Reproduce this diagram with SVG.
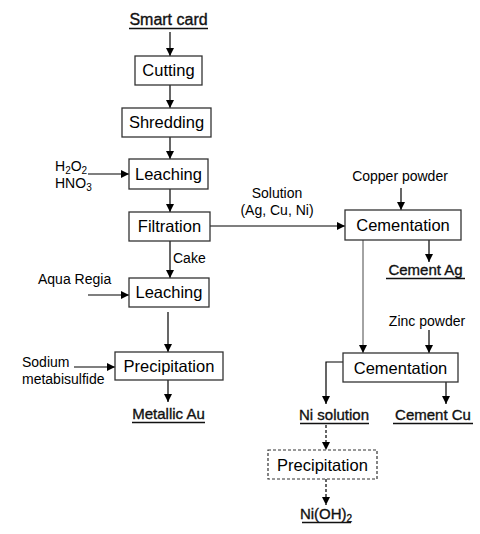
<svg xmlns="http://www.w3.org/2000/svg" width="480" height="534" viewBox="0 0 480 534">
<style>
.box{fill:#fff;stroke:#333;stroke-width:1.3}
.dbox{fill:#fff;stroke:#333;stroke-width:1.2;stroke-dasharray:3,2}
.bt{font-family:"Liberation Sans",Arial,sans-serif;font-size:16.5px;fill:#000;text-anchor:middle}
.lb{font-family:"Liberation Sans",Arial,sans-serif;font-size:14px;fill:#000}
.ul{font-family:"Liberation Sans",Arial,sans-serif;font-size:15px;fill:#111;stroke:#111;stroke-width:0.35;text-anchor:middle}
.ln{stroke:#000;stroke-width:1.2;fill:none}
.thin{stroke:#333;stroke-width:0.9;fill:none}
.dash{stroke:#000;stroke-width:1.2;fill:none;stroke-dasharray:3,2}
.und{stroke:#111;stroke-width:1.3}
</style>
<defs>
<marker id="ah" markerUnits="userSpaceOnUse" markerWidth="8" markerHeight="8" viewBox="0 0 8 8" refX="8" refY="4" orient="auto">
<path d="M0,0 L8,4 L0,8 z" fill="#000"/>
</marker>
</defs>

<g id="connectors">
<line class="ln" x1="170" y1="32" x2="170" y2="56" marker-end="url(#ah)"/>
<line class="ln" x1="170" y1="85" x2="170" y2="108" marker-end="url(#ah)"/>
<line class="ln" x1="170" y1="137" x2="170" y2="159" marker-end="url(#ah)"/>
<line class="ln" x1="88" y1="174" x2="129" y2="174" marker-end="url(#ah)"/>
<line class="ln" x1="170" y1="189" x2="170" y2="212" marker-end="url(#ah)"/>
<line class="ln" x1="210" y1="226" x2="345" y2="226" marker-end="url(#ah)"/>
<line class="ln" x1="170" y1="241" x2="170" y2="278" marker-end="url(#ah)"/>
<line class="ln" x1="88" y1="295" x2="129" y2="295" marker-end="url(#ah)"/>
<line class="ln" x1="168" y1="312" x2="168" y2="352" marker-end="url(#ah)"/>
<line class="ln" x1="74" y1="367" x2="115" y2="367" marker-end="url(#ah)"/>
<line class="ln" x1="168" y1="380" x2="168" y2="402" marker-end="url(#ah)"/>
<line class="ln" x1="401" y1="188" x2="401" y2="210" marker-end="url(#ah)"/>
<line class="ln" x1="429" y1="240" x2="429" y2="262" marker-end="url(#ah)"/>
<line class="thin" x1="363" y1="240" x2="363" y2="353" marker-end="url(#ah)"/>
<line class="ln" x1="429" y1="330" x2="429" y2="353" marker-end="url(#ah)"/>
<polyline class="ln" points="343,362 326,362 326,404" marker-end="url(#ah)"/>
<line class="ln" x1="446" y1="382" x2="446" y2="404" marker-end="url(#ah)"/>
<line class="dash" x1="326" y1="425" x2="326" y2="450" marker-end="url(#ah)"/>
<line class="dash" x1="326" y1="479" x2="326" y2="505" marker-end="url(#ah)"/>
</g>

<g id="smart-card">
<text class="ul" x="168.5" y="25" style="font-size:16px">Smart card</text>
<line class="und" x1="129" y1="28.5" x2="208" y2="28.5"/>
</g>
<g id="cutting">
<rect class="box" x="135" y="56" width="67" height="29"/>
<text class="bt" x="168.5" y="76">Cutting</text>
</g>
<g id="shredding">
<rect class="box" x="122" y="108" width="89" height="29"/>
<text class="bt" x="166.5" y="128">Shredding</text>
</g>
<g id="h2o2-hno3">
<text class="lb" x="55" y="171">H<tspan font-size="10" dy="3">2</tspan><tspan dy="-3">O</tspan><tspan font-size="10" dy="3">2</tspan></text>
<text class="lb" x="55" y="188">HNO<tspan font-size="10" dy="3">3</tspan></text>
</g>
<g id="leaching1">
<rect class="box" x="129" y="159" width="79" height="30"/>
<text class="bt" x="168.5" y="180">Leaching</text>
</g>
<g id="filtration">
<rect class="box" x="129" y="212" width="81" height="29"/>
<text class="bt" x="169.5" y="232">Filtration</text>
</g>
<g id="solution-label">
<text class="lb" x="277" y="198" text-anchor="middle">Solution</text>
<text class="lb" x="277" y="215" text-anchor="middle">(Ag, Cu, Ni)</text>
</g>
<g id="cake-label">
<text class="lb" x="173" y="263">Cake</text>
</g>
<g id="aqua-regia">
<text class="lb" x="38" y="284">Aqua Regia</text>
</g>
<g id="leaching2">
<rect class="box" x="129" y="278" width="80" height="29"/>
<text class="bt" x="169" y="298">Leaching</text>
</g>
<g id="sodium">
<text class="lb" x="22" y="367">Sodium</text>
<text class="lb" x="22" y="384">metabisulfide</text>
</g>
<g id="precipitation1">
<rect class="box" x="115" y="352" width="108" height="28"/>
<text class="bt" x="169" y="372">Precipitation</text>
</g>
<g id="metallic-au">
<text class="ul" x="168.5" y="419">Metallic Au</text>
<line class="und" x1="132" y1="422.5" x2="205" y2="422.5"/>
</g>
<g id="copper-powder">
<text class="lb" x="400" y="181" text-anchor="middle">Copper powder</text>
</g>
<g id="cementation1">
<rect class="box" x="345" y="210" width="116" height="30"/>
<text class="bt" x="403" y="231">Cementation</text>
</g>
<g id="cement-ag">
<text class="ul" x="425.5" y="275">Cement Ag</text>
<line class="und" x1="386" y1="278.5" x2="465" y2="278.5"/>
</g>
<g id="zinc-powder">
<text class="lb" x="427" y="326" text-anchor="middle">Zinc powder</text>
</g>
<g id="cementation2">
<rect class="box" x="343" y="353" width="115" height="29"/>
<text class="bt" x="400.5" y="374">Cementation</text>
</g>
<g id="ni-solution">
<text class="ul" x="334" y="420">Ni solution</text>
<line class="und" x1="300" y1="423.5" x2="369" y2="423.5"/>
</g>
<g id="cement-cu">
<text class="ul" x="433" y="420">Cement Cu</text>
<line class="und" x1="393" y1="423.5" x2="473" y2="423.5"/>
</g>
<g id="precipitation2">
<rect class="dbox" x="268" y="450" width="109" height="29"/>
<text class="bt" x="322.5" y="471">Precipitation</text>
</g>
<g id="ni-oh2">
<text class="ul" x="326" y="519">Ni(OH)<tspan font-size="10" dy="3">2</tspan></text>
<line class="und" x1="302" y1="522.5" x2="351" y2="522.5"/>
</g>
</svg>
